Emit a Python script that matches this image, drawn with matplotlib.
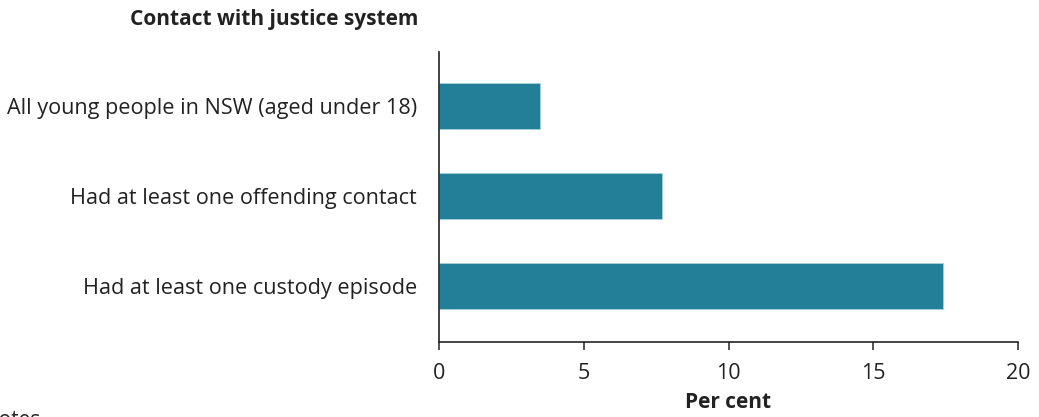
import matplotlib
matplotlib.use("Agg")
import matplotlib.pyplot as plt

plt.rcParams['font.family'] = ['Open Sans', 'DejaVu Sans']

categories = ["All young people in NSW (aged under 18)",
              "Had at least one offending contact",
              "Had at least one custody episode"]
values = [3.5, 7.7, 17.4]
xticks = [0, 5, 10, 15, 20]

bar_col = "#237f97"
text_col = "#222222"

fig = plt.figure(figsize=(10.39, 4.17), dpi=100)
ax = fig.add_axes([439/1039, 1 - 342/417, (1018 - 439)/1039, (342 - 52)/417])

ypos = list(range(len(categories)))
ax.barh(ypos, values, height=0.51, color=bar_col, edgecolor="#a9d3dd", linewidth=0.6)

ax.set_ylim(2.62, -0.6)
ax.set_xlim(0, 20)
ax.set_yticks(ypos)
ax.set_yticklabels(categories, fontsize=15.6, color=text_col)
ax.set_xticks(xticks)
ax.set_xticklabels([str(t) for t in xticks], fontsize=15.5, color=text_col)
ax.tick_params(axis="y", length=0, pad=16)
ax.tick_params(axis="x", length=6, width=1.2, color="#333333", pad=9)

for side in ["top", "right"]:
    ax.spines[side].set_visible(False)
for side in ["left", "bottom"]:
    ax.spines[side].set_color("#222222")
    ax.spines[side].set_linewidth(1.2)

ax.set_xlabel("Per cent", fontsize=15, fontweight="bold", color=text_col, labelpad=6)
fig.text(418/1039, 1 - 19/417, "Contact with justice system", ha="right", va="center",
         fontsize=15, fontweight="bold", color=text_col)
fig.text(-17/1039, -3/417, "Notes", ha="left", va="center", fontsize=15,
         color=text_col)

fig.savefig("out.png", dpi=100)
